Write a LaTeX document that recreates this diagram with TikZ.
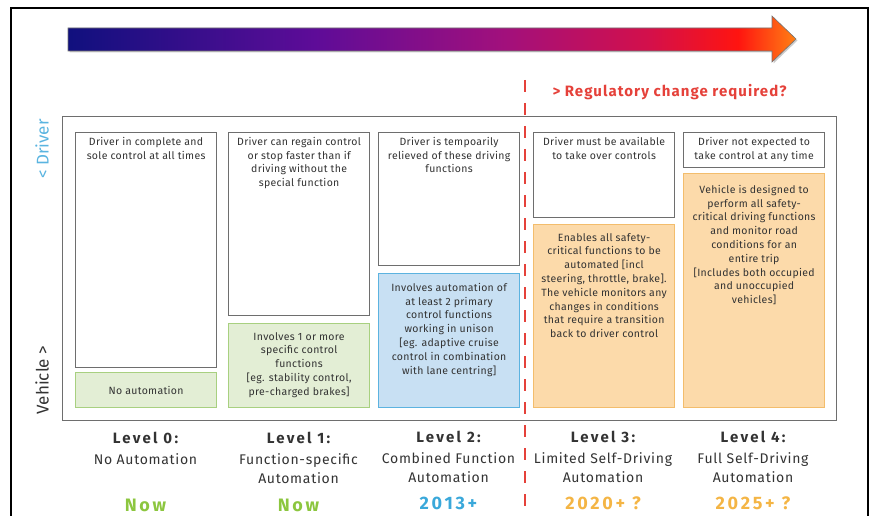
\documentclass[tikz,border=0pt]{standalone}
\usepackage{fontspec}
\setmainfont{Fira Sans}
\newfontfamily\boxfont[LetterSpace=3]{Fira Sans}
\newfontfamily\namefont[LetterSpace=5]{Fira Sans}
\newfontfamily\regfont[LetterSpace=7]{Fira Sans}
\newfontfamily\lvlfont[LetterSpace=15]{Fira Sans}
\usetikzlibrary{shadows, positioning}
\definecolor{framegray}{HTML}{6E6E6E}
\definecolor{textgray}{HTML}{333333}
\definecolor{greenfill}{HTML}{E3EED5}
\definecolor{greenline}{HTML}{A8D080}
\definecolor{bluefill}{HTML}{C8E0F3}
\definecolor{blueline}{HTML}{5CB3E0}
\definecolor{orangefill}{HTML}{FCDAAA}
\definecolor{orangeline}{HTML}{F3BD6C}
\definecolor{regred}{HTML}{E5413A}
\definecolor{drvblue}{HTML}{5AB4E0}
\definecolor{nowgreen}{HTML}{8CC63F}
\definecolor{yearblue}{HTML}{3AA8DA}
\definecolor{yearorange}{HTML}{F4B545}
\definecolor{navyblue}{HTML}{10107E}
\definecolor{deepviolet}{HTML}{5E0C98}
\definecolor{crimsonpink}{HTML}{A2107C}
\definecolor{hotred}{HTML}{D4104A}
\definecolor{brightred}{HTML}{FF1410}
\definecolor{tiporange}{HTML}{FF8014}
% tikz maps the 25bp--75bp band of the shading onto the path
\pgfdeclarehorizontalshading{autoshade}{100bp}{color(0bp)=(navyblue); color(25bp)=(navyblue); color(42bp)=(deepviolet); color(55bp)=(crimsonpink); color(65bp)=(hotred); color(71bp)=(brightred); color(75bp)=(tiporange); color(100bp)=(tiporange)}

\begin{document}
\begin{tikzpicture}[
		x=1pt, y=1pt,
		frame/.style={draw=black, line width=2.6pt},
		panel/.style={draw=framegray, line width=1.2pt, anchor=north west, inner sep=0pt},
		drvbox/.style={draw=framegray, line width=1.2pt, fill=white, anchor=north west,
			minimum width=141, inner sep=0pt},
		vehbox/.style={line width=1.2pt, anchor=north west, minimum width=141, inner sep=0pt,
			font=\boxfont\fontsize{10.5}{14}\selectfont, text=textgray},
		boxtext/.style={font=\boxfont\fontsize{10.5}{13.8}\selectfont, text=textgray, align=center, inner sep=0pt},
		lvltitle/.style={font=\lvlfont\fontsize{15}{16}\selectfont\bfseries, text=textgray},
		lvlname/.style={font=\namefont\fontsize{14}{19}\selectfont, text=textgray, align=center, anchor=north},
		lvlyear/.style={font=\lvlfont\fontsize{18}{20}\selectfont\bfseries},
		axislabel/.style={font=\fontsize{17}{18}\selectfont, rotate=90}
		]
		\useasboundingbox (0,0) rectangle (873,-516);
		
		% Outer frame (open at the bottom)
		\draw[frame] (11,-516) |- (868,-8) -- (868,-516);
		
		% Progress arrow
		\shade[shading=autoshade, draw=black!55, line width=0.6pt,
		drop shadow={opacity=0.4, shadow xshift=1.5pt, shadow yshift=-1.5pt}]
		(68,-28) -- (772,-28) -- (772,-16) -- (796,-39) -- (772,-62) -- (772,-51) -- (68,-51) -- cycle;
		
		% Main panel
		\node[panel, minimum width=774, minimum height=304] (panel) at (62,-116) {};
		
		% Driver side boxes
		\node[drvbox, minimum height=235] (drv0) at (75,-132) {};
		\node[drvbox, minimum height=183] (drv1) at (228,-132) {};
		\node[drvbox, minimum height=133] (drv2) at (378,-132) {};
		\node[drvbox, minimum height=85]  (drv3) at (533,-132) {};
		\node[drvbox, minimum height=35]  (drv4) at (683,-132) {};
		
		\node[boxtext, below=5pt of drv0.north] {Driver in complete and\\sole control at all times};
		\node[boxtext, below=5pt of drv1.north] {Driver can regain control\\or stop faster than if\\driving without the\\special function};
		\node[boxtext, below=5pt of drv2.north] {Driver is tempoarily\\relieved of these driving\\functions};
		\node[boxtext, below=5pt of drv3.north] {Driver must be available\\to take over controls};
		\node[boxtext, below=5pt of drv4.north] {Driver not expected to\\take control at any time};
		
		% Vehicle side boxes
		\node[vehbox, draw=greenline, fill=greenfill, minimum height=35] (veh0) at (75,-372) {No automation};
		\node[vehbox, draw=greenline, fill=greenfill, minimum height=84] (veh1) at (228,-323) {};
		\node[vehbox, draw=blueline, fill=bluefill, minimum height=134] (veh2) at (378,-273) {};
		\node[vehbox, draw=orangeline, fill=orangefill, minimum height=183] (veh3) at (533,-224) {};
		\node[vehbox, draw=orangeline, fill=orangefill, minimum height=234] (veh4) at (683,-173) {};
		
		\node[boxtext, below=9pt of veh1.north] {Involves 1 or more\\specific control\\functions\\{[eg.} stability control,\\pre-charged brakes]};
		\node[boxtext, below=10pt of veh2.north] {Involves automation of\\at least 2 primary\\control functions\\working in unison\\{[eg.} adaptive cruise\\control in combination\\with lane centring]};
		\node[boxtext, below=9pt of veh3.north] {Enables all safety-\\critical functions to be\\automated [incl\\steering, throttle, brake].\\The vehicle monitors any\\changes in conditions\\that require a transition\\back to driver control};
		\node[boxtext, below=12pt of veh4.north] {Vehicle is designed to\\perform all safety-\\critical driving functions\\and monitor road\\conditions for an\\entire trip\\{[Includes} both occupied\\and unoccupied\\vehicles]};
		
		% Side labels
		\node[axislabel, text=drvblue] (drvaxis) at (42,-149) {< Driver};
		\node[axislabel, text=textgray] (vehaxis) at (42,-380) {Vehicle >};
		
		% Regulatory boundary
		\coordinate (regtop) at (525,-80);
		\coordinate (regbot) at (525,-516);
		\draw[regred, line width=2.8pt, dash pattern=on 12pt off 11pt] (regtop) -- (regbot);
		\node[font=\regfont\fontsize{15}{17}\selectfont\bfseries, text=regred, anchor=west] (reg) at (549,-92) {> Regulatory change required?};
		
		% Levels
		\node[lvltitle] (lvl0) at (145.5,-438) {Level 0:};
		\node[lvltitle] (lvl1) at (298.5,-438) {Level 1:};
		\node[lvltitle] (lvl2) at (448.5,-437) {Level 2:};
		\node[lvltitle] (lvl3) at (603,-437) {Level 3:};
		\node[lvltitle] (lvl4) at (753,-437) {Level 4:};
		
		\node[lvlname] (name0) at (145.5,-450) {No Automation};
		\node[lvlname] (name1) at (298.5,-450) {Function-specific\\Automation};
		\node[lvlname] (name2) at (448.5,-449) {Combined Function\\Automation};
		\node[lvlname] (name3) at (603,-449) {Limited Self-Driving\\Automation};
		\node[lvlname] (name4) at (753,-449) {Full Self-Driving\\Automation};
		
		\node[lvlyear, text=nowgreen]   (year0) at (145.5,-505) {Now};
		\node[lvlyear, text=nowgreen]   (year1) at (298.5,-505) {Now};
		\node[lvlyear, text=yearblue]   (year2) at (448.5,-503) {2013+};
		\node[lvlyear, text=yearorange] (year3) at (603,-503) {2020+ ?};
		\node[lvlyear, text=yearorange] (year4) at (753,-503) {2025+ ?};
		
	\end{tikzpicture}
\end{document}
